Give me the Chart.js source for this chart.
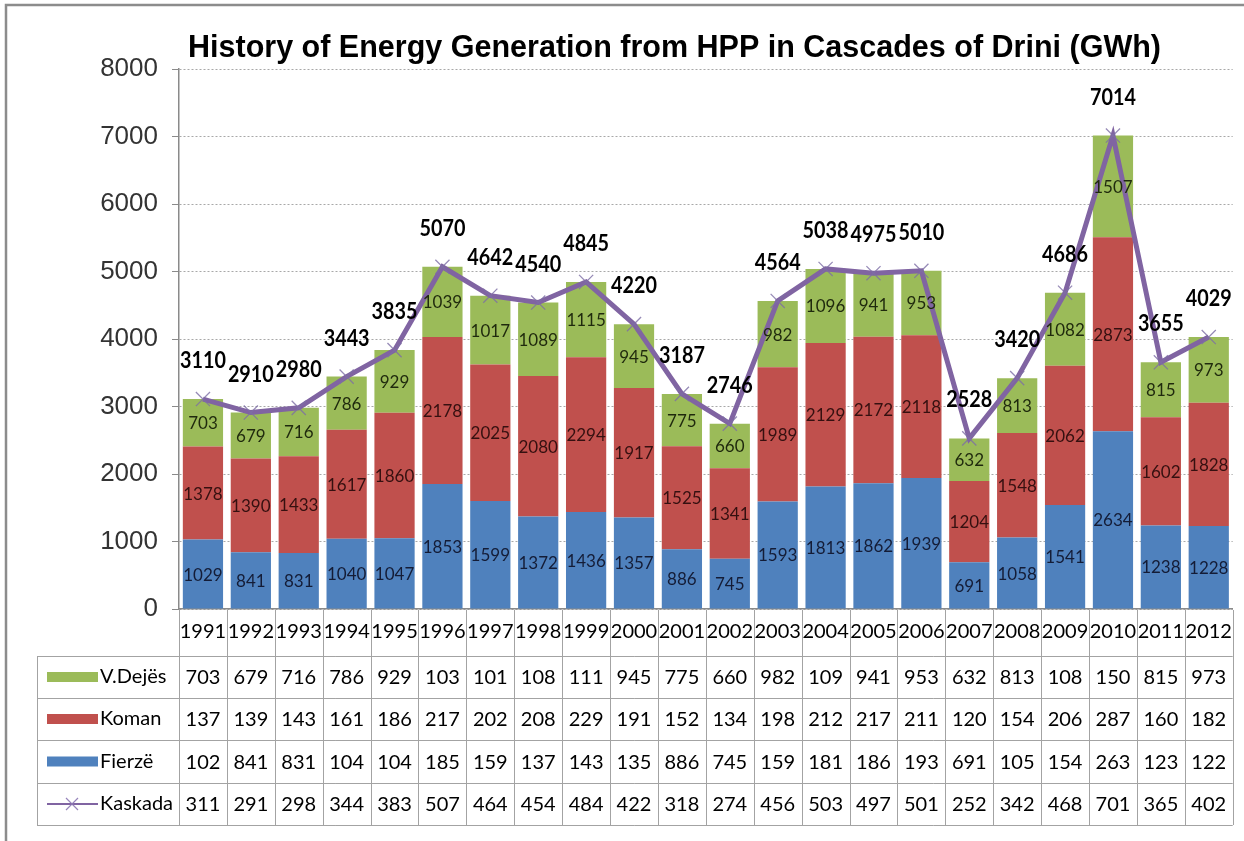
<!DOCTYPE html>
<html><head><meta charset="utf-8">
<script src="https://cdn.jsdelivr.net/npm/chart.js@4.4.1/dist/chart.umd.min.js"></script>
<style>html,body{margin:0;padding:0;background:#fff}canvas{display:block}</style>
</head>
<body>
<canvas id="c" width="1244" height="841"></canvas>
<script>
const years = ['1991','1992','1993','1994','1995','1996','1997','1998','1999','2000','2001','2002','2003','2004','2005','2006','2007','2008','2009','2010','2011','2012'];
const fierze  = [1029, 841, 831,1040,1047,1853,1599,1372,1436,1357, 886, 745,1593,1813,1862,1939, 691,1058,1541,2634,1238,1228];
const koman   = [1378,1390,1433,1617,1860,2178,2025,2080,2294,1917,1525,1341,1989,2129,2172,2118,1204,1548,2062,2873,1602,1828];
const vdejes  = [ 703, 679, 716, 786, 929,1039,1017,1089,1115, 945, 775, 660, 982,1096, 941, 953, 632, 813,1082,1507, 815, 973];
const kaskada = [3110,2910,2980,3443,3835,5070,4642,4540,4845,4220,3187,2746,4564,5038,4975,5010,2528,3420,4686,7014,3655,4029];
const yTicks  = [0,1000,2000,3000,4000,5000,6000,7000,8000];
const titleText = 'History of Energy Generation from HPP in Cascades of Drini (GWh)';
const names = {vdejes:'V.Dejës', koman:'Koman', fierze:'Fierzë', kaskada:'Kaskada'};

const COL = {blue:'#4F81BD', red:'#C0504D', green:'#9BBB59', purple:'#8064A2'};
const LBL = {blue:'#141c36', red:'#351010', green:'#1f290d'};
const NUMFONT = 'Lato, "Noto Sans", sans-serif';

// table geometry
const TABLE_LEFT = 37;
const ROW_LINES = [656, 698, 740, 783, 825];

const decor = {
  id:'decor',
  afterDatasetsDraw(chart){
    const ctx = chart.ctx;
    ctx.save();
    const barSets = [[1, LBL.blue],[2, LBL.red],[3, LBL.green]];
    ctx.font = '17px ' + NUMFONT;
    ctx.textAlign = 'center';
    ctx.textBaseline = 'middle';
    for (const [di, col] of barSets){
      const meta = chart.getDatasetMeta(di);
      const data = chart.data.datasets[di].data;
      meta.data.forEach((el, i) => {
        ctx.fillStyle = col;
        ctx.fillText(String(data[i]), el.x, (el.y + el.base)/2 + 1);
      });
    }
    const lm = chart.getDatasetMeta(0);
    ctx.font = 'bold 22px ' + NUMFONT;
    ctx.fillStyle = '#000';
    lm.data.forEach((el, i) => {
      ctx.save();
      ctx.translate(el.x, el.y - 38);
      ctx.scale(0.9, 1);
      ctx.fillText(String(kaskada[i]), 0, 0);
      ctx.restore();
    });
    ctx.restore();
  },
  afterDraw(chart){
    const ctx = chart.ctx;
    const xs = chart.scales.x;
    const ca = chart.chartArea;
    const step = xs.getPixelForValue(1) - xs.getPixelForValue(0);
    const n = years.length;
    const right = xs.getPixelForValue(n-1) + step/2;
    ctx.save();
    ctx.strokeStyle = '#a3a3a3';
    ctx.lineWidth = 1;
    ctx.beginPath();
    for (let i = 0; i <= n; i++){
      const x = Math.round(xs.getPixelForValue(0) - step/2 + i*step) + 0.5;
      ctx.moveTo(x, ca.bottom + 1);
      ctx.lineTo(x, ROW_LINES[ROW_LINES.length-1]);
    }
    for (const y of ROW_LINES){
      ctx.moveTo(TABLE_LEFT, y + 0.5);
      ctx.lineTo(right, y + 0.5);
    }
    ctx.moveTo(TABLE_LEFT + 0.5, ROW_LINES[0]);
    ctx.lineTo(TABLE_LEFT + 0.5, ROW_LINES[ROW_LINES.length-1]);
    ctx.stroke();

    const rows = [
      {name:names.vdejes, data:vdejes, kind:'box', color:COL.green},
      {name:names.koman, data:koman, kind:'box', color:COL.red},
      {name:names.fierze, data:fierze, kind:'box', color:COL.blue},
      {name:names.kaskada, data:kaskada, kind:'line', color:COL.purple},
    ];
    rows.forEach((r, ri) => {
      const cy = (ROW_LINES[ri] + ROW_LINES[ri+1]) / 2;
      if (r.kind === 'box'){
        ctx.fillStyle = r.color;
        ctx.fillRect(47, cy - 5, 51, 10);
      } else {
        ctx.strokeStyle = r.color;
        ctx.lineWidth = 2;
        ctx.beginPath(); ctx.moveTo(47, cy); ctx.lineTo(98, cy); ctx.stroke();
        ctx.strokeStyle = 'rgba(140,120,180,0.9)';
        ctx.lineWidth = 1.2;
        ctx.beginPath();
        ctx.moveTo(66, cy-6); ctx.lineTo(78, cy+6);
        ctx.moveTo(78, cy-6); ctx.lineTo(66, cy+6);
        ctx.stroke();
      }
      ctx.fillStyle = '#000';
      ctx.font = '20px ' + NUMFONT;
      ctx.textAlign = 'left';
      ctx.textBaseline = 'middle';
      ctx.fillText(r.name, 100, cy);
      ctx.textAlign = 'center';
      r.data.forEach((v, i) => {
        ctx.fillText(String(v).slice(0,3), xs.getPixelForValue(i), cy + 1);
      });
    });

    ctx.font = 'bold 31px "Liberation Sans", Arial, sans-serif';
    ctx.fillStyle = '#000';
    ctx.textAlign = 'left';
    ctx.textBaseline = 'alphabetic';
    const w = ctx.measureText(titleText).width;
    const target = 1161 - 188;
    ctx.save();
    ctx.translate(188, 57);
    ctx.scale(target / w, 1);
    ctx.fillText(titleText, 0, 0);
    ctx.restore();

    ctx.strokeStyle = '#8c8c8c';
    ctx.lineWidth = 2.5;
    ctx.beginPath();
    ctx.moveTo(6, 841); ctx.lineTo(6, 5); ctx.lineTo(1244, 5);
    ctx.stroke();
    ctx.restore();
  }
};

new Chart(document.getElementById('c').getContext('2d'), {
  type:'bar',
  data:{
    labels: years,
    datasets:[
      {type:'line', label:names.kaskada, data:kaskada, stack:'k', order:0,
       borderColor:COL.purple, borderWidth:5, tension:0, fill:false,
       pointStyle:'crossRot', pointRadius:10, pointBorderColor:'rgba(125,110,165,0.8)',
       pointBorderWidth:1.3, pointBackgroundColor:'rgba(0,0,0,0)'},
      {label:names.fierze, data:fierze, backgroundColor:COL.blue, stack:'s', order:1},
      {label:names.koman, data:koman, backgroundColor:COL.red, stack:'s', order:1},
      {label:names.vdejes, data:vdejes, backgroundColor:COL.green, stack:'s', order:1}
    ]
  },
  options:{
    responsive:false,
    animation:false,
    layout:{padding:{left:0, right:1, top:69, bottom:0}},
    datasets:{bar:{categoryPercentage:1, barPercentage:0.84}},
    plugins:{legend:{display:false}, title:{display:false}, tooltip:{enabled:false}},
    scales:{
      x:{
        stacked:true,
        grid:{display:false, drawTicks:false},
        border:{display:true, color:'#8a8a8a', width:1.5},
        ticks:{font:{family:NUMFONT, size:20}, color:'#000', padding:11, maxRotation:0, autoSkip:false},
        afterFit(s){ s.height = 232; }
      },
      y:{
        stacked:true, min:0, max:8000,
        afterBuildTicks(s){ s.ticks = yTicks.map(v => ({value:v})); },
        ticks:{font:{family:'"Liberation Sans", Arial, sans-serif', size:26}, color:'#333', padding:14,
               callback:(v) => String(v)},
        grid:{color:'#a8a8a8', tickColor:'#8a8a8a', tickLength:7, drawTicks:true, tickBorderDash:[]},
        border:{display:true, color:'#8a8a8a', width:1.5, dash:[2,2]},
        afterFit(s){ s.width = 179; }
      }
    }
  },
  plugins:[decor]
});
</script>
</body></html>
